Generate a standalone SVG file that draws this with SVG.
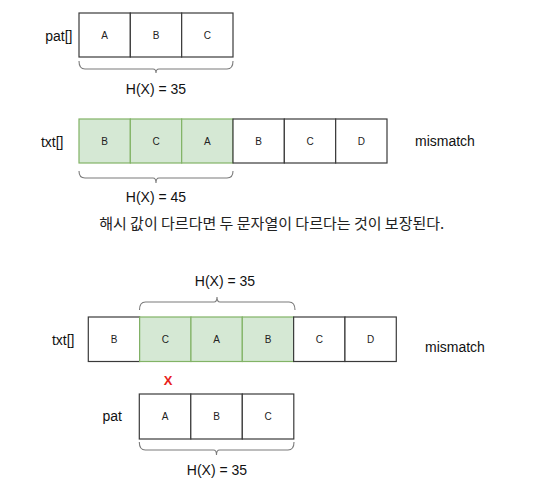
<svg xmlns="http://www.w3.org/2000/svg" width="541" height="491" viewBox="0 0 541 491">
<style>
.c{fill:#fff;stroke:#3a3a3a;stroke-width:1.2}
.g{fill:#d5e8d4;stroke:#82b366;stroke-width:1.2}
.cl{font-family:"Liberation Sans",Arial,sans-serif;font-size:10px;fill:#222;text-anchor:middle;dominant-baseline:central}
.lb{font-family:"Liberation Sans",Arial,sans-serif;font-size:14px;fill:#111;dominant-baseline:central}
.h{font-family:"Liberation Sans",Arial,sans-serif;font-size:14px;fill:#111;text-anchor:middle}
.br{fill:none;stroke:#7a7a7a;stroke-width:1.1}
.ko{font-family:"Noto Sans CJK KR","Noto Sans",sans-serif;font-size:15px;fill:#222;text-anchor:middle}
.x{font-family:"Liberation Sans",Arial,sans-serif;font-size:13px;font-weight:bold;fill:#e8221b;text-anchor:middle;dominant-baseline:central}
</style>
<rect width="541" height="491" fill="#fff"/>

<g id="pat1">
<text class="lb" x="72.5" y="35.5" text-anchor="end">pat[]</text>
<rect class="c" x="79" y="13" width="51.33" height="44"/>
<rect class="c" x="130.33" y="13" width="51.33" height="44"/>
<rect class="c" x="181.67" y="13" width="51.33" height="44"/>
<text class="cl" x="104.7" y="35">A</text>
<text class="cl" x="156" y="35">B</text>
<text class="cl" x="207.3" y="35">C</text>
</g>
<g id="brace1">
<path class="br" d="M79,61 Q79,69 85,69 L153,69 Q156,69 156,73 Q156,69 159,69 L227,69 Q233,69 233,61"/>
<text class="h" x="156" y="94">H(X) = 35</text>
</g>

<g id="txt1">
<text class="lb" x="63.5" y="142" text-anchor="end">txt[]</text>
<rect class="g" x="79" y="119" width="51.33" height="44"/>
<rect class="g" x="130.33" y="119" width="51.33" height="44"/>
<rect class="g" x="181.67" y="119" width="51.33" height="44"/>
<rect class="c" x="233" y="119" width="51.33" height="44"/>
<rect class="c" x="284.33" y="119" width="51.33" height="44"/>
<rect class="c" x="335.67" y="119" width="51.33" height="44"/>
<text class="cl" x="104.7" y="141">B</text>
<text class="cl" x="156" y="141">C</text>
<text class="cl" x="207.3" y="141">A</text>
<text class="cl" x="258.7" y="141">B</text>
<text class="cl" x="310" y="141">C</text>
<text class="cl" x="361.3" y="141">D</text>
<text class="lb" x="415" y="141">mismatch</text>
</g>
<g id="brace2">
<path class="br" d="M79,171 Q79,178 85,178 L153,178 Q156,178 156,183 Q156,178 159,178 L227,178 Q233,178 233,171"/>
<text class="h" x="156" y="202">H(X) = 45</text>
</g>

<text class="ko" x="271.7" y="229">해시 값이 다르다면 두 문자열이 다르다는 것이 보장된다.</text>

<g id="brace3">
<text class="h" x="225" y="286">H(X) = 35</text>
<path class="br" d="M139.5,310 Q139.5,302 145.5,302 L214,302 Q217,302 217,297 Q217,302 220,302 L289,302 Q295,302 295,310"/>
</g>
<g id="txt2">
<text class="lb" x="74.5" y="340" text-anchor="end">txt[]</text>
<rect class="c" x="88.3" y="317" width="51.33" height="44.5"/>
<rect class="g" x="139.63" y="317" width="51.33" height="44.5"/>
<rect class="g" x="190.96" y="317" width="51.33" height="44.5"/>
<rect class="g" x="242.3" y="317" width="51.33" height="44.5"/>
<rect class="c" x="293.63" y="317" width="51.33" height="44.5"/>
<rect class="c" x="344.96" y="317" width="51.33" height="44.5"/>
<text class="cl" x="114" y="339">B</text>
<text class="cl" x="165.3" y="339">C</text>
<text class="cl" x="216.6" y="339">A</text>
<text class="cl" x="268" y="339">B</text>
<text class="cl" x="319.3" y="339">C</text>
<text class="cl" x="370.6" y="339">D</text>
<text class="lb" x="425" y="347">mismatch</text>
</g>
<g id="mark">
<text class="x" x="168" y="380.5">X</text>
</g>

<g id="pat2">
<text class="lb" x="122" y="416" text-anchor="end">pat</text>
<rect class="c" x="139.3" y="394" width="51.5" height="45"/>
<rect class="c" x="190.8" y="394" width="51.5" height="45"/>
<rect class="c" x="242.3" y="394" width="51.5" height="45"/>
<text class="cl" x="165" y="416.5">A</text>
<text class="cl" x="216.5" y="416.5">B</text>
<text class="cl" x="268" y="416.5">C</text>
</g>
<g id="brace4">
<path class="br" d="M139.3,442 Q139.3,450 145.3,450 L213.5,450 Q216.5,450 216.5,455 Q216.5,450 219.5,450 L288,450 Q294,450 294,442"/>
<text class="h" x="217" y="475">H(X) = 35</text>
</g>
</svg>
